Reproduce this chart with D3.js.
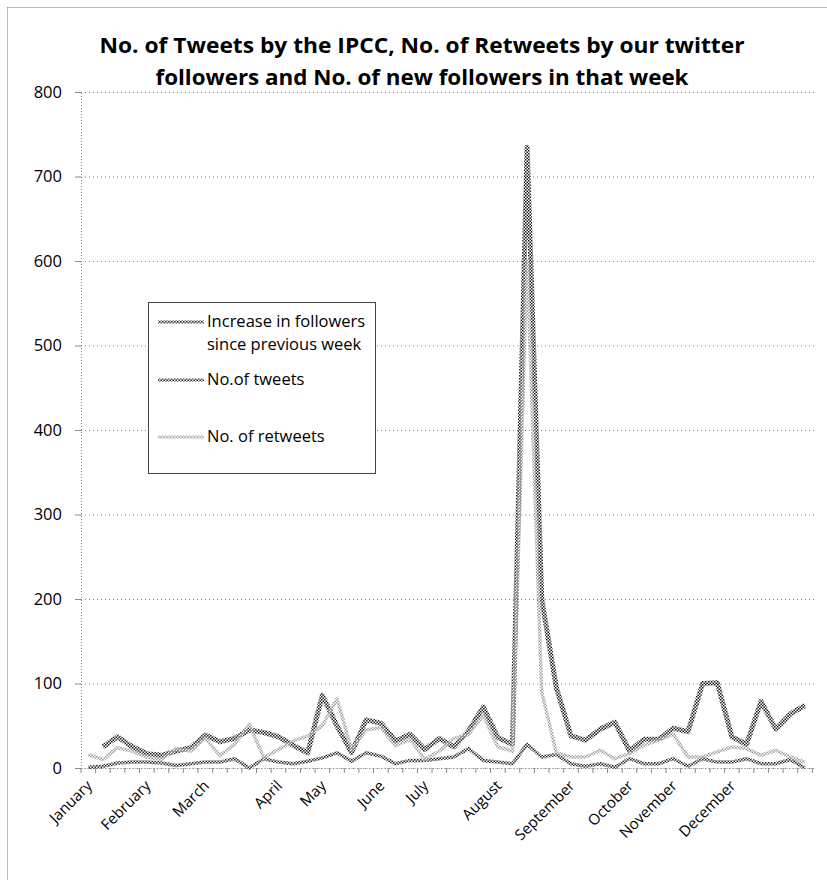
<!DOCTYPE html>
<html><head><meta charset="utf-8">
<script src="https://cdn.jsdelivr.net/npm/d3@7"></script>
<style>
html,body{margin:0;padding:0;background:#fff;}
svg{display:block;}
text{font-family:"Open Sans","Noto Sans",sans-serif;fill:#000;}
</style></head>
<body><svg id="c" width="827" height="880"></svg>
<script>
// ---- data ----
const weekLabels = [
 "January","","","","February","","","","March","","","","","April","","","May","","","","June","","","July","","","","","August","","","","","September","","","","October","","","November","","","","December","","","","",""
];
const followers = [null,25,37,25,17,15,20,24,39,31,35,45,42,37,27,18,86,50,18,57,53,32,40,22,35,25,44,72,36,28,735,200,95,38,33,46,54,20,34,34,47,43,100,101,37,28,79,46,64,74];
const tweets    = [1,2,6,7,7,6,3,5,7,7,11,0,11,7,5,8,12,18,8,18,14,5,9,9,11,13,23,9,7,5,28,13,16,5,2,5,1,11,5,5,11,2,11,7,7,11,5,5,10,0];
const retweets  = [16,10,24,20,13,10,23,20,35,15,28,52,12,22,32,38,50,82,22,45,48,26,34,10,20,35,40,62,25,20,600,90,18,13,13,21,11,17,27,33,40,13,13,19,25,23,15,21,13,7];
const yTicks = [0,100,200,300,400,500,600,700,800];
const titleLines = ["No. of Tweets by the IPCC, No. of Retweets by our twitter","followers and No. of new followers in that week"];
const legendItems = [
  {name:["Increase in followers","since previous week"], key:"f"},
  {name:["No.of tweets"], key:"t"},
  {name:["No. of retweets"], key:"r"}
];

// ---- layout ----
const svg = d3.select("#c");
const L = 81, R = 812.3, T = 92, B = 768;
const x = d3.scaleBand().domain(d3.range(weekLabels.length)).range([L, R]);
const y = d3.scaleLinear().domain([0, 800]).range([B, T]);
const cx = i => x(i) + x.bandwidth()/2;

// patterns (dithered dotted look)
const defs = svg.append("defs");
function pat(id, col, s){
  const p = defs.append("pattern").attr("id", id).attr("patternUnits","userSpaceOnUse")
    .attr("width", s*2).attr("height", s*2);
  p.append("rect").attr("x",0).attr("y",0).attr("width",s).attr("height",s).attr("fill",col);
  p.append("rect").attr("x",s).attr("y",s).attr("width",s).attr("height",s).attr("fill",col);
}
pat("pf", "#1a1a1a", 1.5);
pat("pt", "#222", 1.5);
pat("pr", "#999", 1.5);
const style = {
  f:{stroke:"url(#pf)", w:5},
  t:{stroke:"url(#pt)", w:3.5},
  r:{stroke:"url(#pr)", w:3.5}
};

// outer dotted border
svg.append("line").attr("x1",7.5).attr("y1",7.5).attr("x2",827).attr("y2",7.5)
  .attr("stroke","#777").attr("stroke-dasharray","1,1");
svg.append("line").attr("x1",7.5).attr("y1",7.5).attr("x2",7.5).attr("y2",880)
  .attr("stroke","#777").attr("stroke-dasharray","1,1");

// title
const tw = [645, 533];
svg.append("g").selectAll("text").data(titleLines).join("text")
  .attr("x", 422).attr("y", (d,i)=> 53 + i*32)
  .attr("text-anchor","middle").attr("font-size", 22).attr("font-weight", 700)
  .attr("textLength", (d,i)=>tw[i]).attr("lengthAdjust","spacingAndGlyphs")
  .text(d=>d);

// gridlines
svg.append("g").attr("transform",`translate(${L},0)`)
  .call(d3.axisLeft(y).tickValues(yTicks).tickSize(-(R - L + 3)).tickFormat(""))
  .call(g=>g.select(".domain").remove())
  .call(g=>g.selectAll("line").attr("stroke","#888").attr("stroke-dasharray","1,3"));

// y axis
const ya = svg.append("g").attr("transform",`translate(${L},0)`)
  .call(d3.axisLeft(y).tickValues(yTicks).tickSize(6).tickPadding(13));
ya.select(".domain").attr("stroke","#888").attr("stroke-dasharray","1,2");
ya.selectAll(".tick line").attr("stroke","#888");
ya.selectAll("text").attr("font-size",16.5).attr("font-family","Open Sans, sans-serif").attr("fill","#000");

// x axis
const xa = svg.append("g").attr("transform",`translate(0,${B})`)
  .call(d3.axisBottom(x).tickSize(0).tickFormat(""));
xa.select(".domain").attr("stroke","#888").attr("stroke-dasharray","1,2");
xa.selectAll(".tick").remove();
const bounds = x.domain().map(i=>x(i)).concat([R]);
xa.selectAll("line.b").data(bounds).join("line").attr("class","b")
  .attr("x1",d=>d).attr("x2",d=>d).attr("y1",0).attr("y2",5).attr("stroke","#888");
svg.append("g").selectAll("text").data(weekLabels.map((l,i)=>({l,i})).filter(d=>d.l))
  .join("text")
  .attr("text-anchor","end")
  .attr("font-size",15)
  .attr("transform", d=>`translate(${cx(d.i)+1},${B+15}) rotate(-45)`)
  .attr("dy","0.35em")
  .text(d=>d.l);

// lines
const line = d3.line().defined(d=>d!=null).x((d,i)=>cx(i)).y(d=>y(d));
const series = [{k:"f", v:followers},{k:"t", v:tweets},{k:"r", v:retweets}];
svg.append("g").selectAll("path").data(series).join("path")
  .attr("fill","none")
  .attr("stroke", d=>style[d.k].stroke)
  .attr("stroke-width", d=>style[d.k].w)
  .attr("stroke-linejoin","round")
  .attr("d", d=>line(d.v));

// legend
const lg = svg.append("g");
lg.append("rect").attr("x",148.5).attr("y",302.5).attr("width",227).attr("height",171)
  .attr("fill","#fff").attr("stroke","#444").attr("stroke-width",1);
const ly = [322, 380, 437];
legendItems.forEach((it,i)=>{
  lg.append("line").attr("x1",158).attr("x2",204).attr("y1",ly[i]).attr("y2",ly[i])
    .attr("stroke", style[it.key].stroke).attr("stroke-width", 3);
  it.name.forEach((n,j)=>{
    lg.append("text").attr("x",207).attr("y", ly[i] + 5 + j*23)
      .attr("font-size",16.5).text(n);
  });
});
</script></body></html>
